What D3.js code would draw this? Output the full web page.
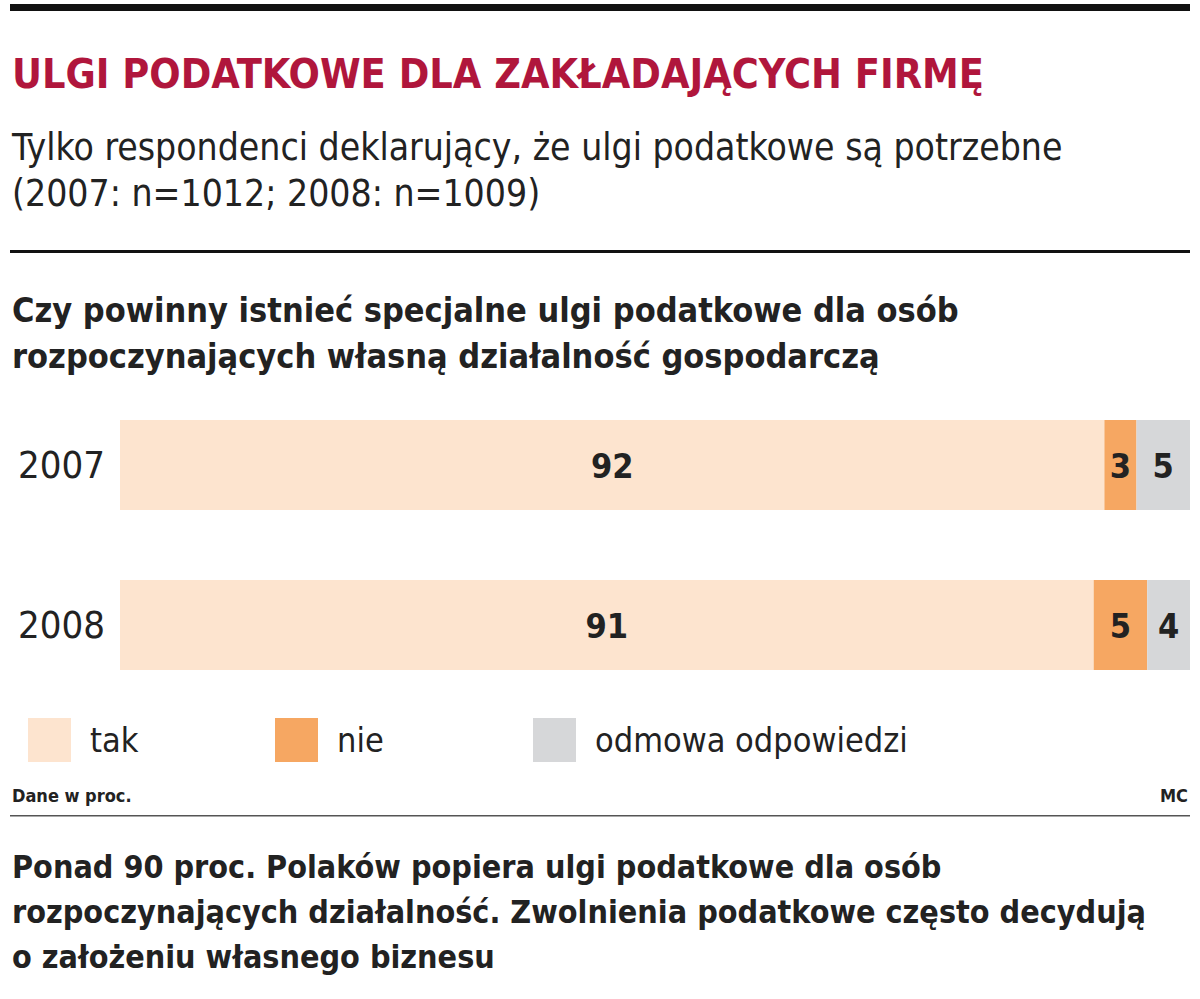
<!DOCTYPE html>
<html><head><meta charset="utf-8">
<script src="https://cdn.jsdelivr.net/npm/d3@7"></script>
<style>body{margin:0;background:#fff}text{font-family:"Liberation Sans Narrow","DejaVu Sans Condensed",sans-serif}</style>
</head><body><svg id="chart"></svg>
<script>
var years = ["2007", "2008"];
var seriesNames = ["tak", "nie", "odmowa odpowiedzi"];
var tak = [92, 91];
var nie = [3, 5];
var odmowa = [5, 4];
var colors = ["#fde4cf", "#f6a762", "#d6d7d9"];

var svg = d3.select("#chart").attr("width", 1200).attr("height", 999);

svg.append("rect").attr("x", 10).attr("y", 4).attr("width", 1180).attr("height", 7).attr("fill", "#111");
svg.append("text").attr("x", 12).attr("y", 88).attr("fill", "#b0163c")
  .attr("font-size", 41).attr("font-weight", "bold").text("ULGI PODATKOWE DLA ZAKŁADAJĄCYCH FIRMĘ");
svg.append("text").attr("x", 12).attr("y", 160).attr("font-size", 37).attr("fill", "#222")
  .text("Tylko respondenci deklarujący, że ulgi podatkowe są potrzebne");
svg.append("text").attr("x", 12).attr("y", 206).attr("font-size", 37).attr("fill", "#222")
  .text("(2007: n=1012; 2008: n=1009)");
svg.append("rect").attr("x", 10).attr("y", 250).attr("width", 1180).attr("height", 3).attr("fill", "#111");
svg.append("text").attr("x", 12).attr("y", 322).attr("font-size", 34).attr("font-weight", "bold").attr("fill", "#222")
  .text("Czy powinny istnieć specjalne ulgi podatkowe dla osób");
svg.append("text").attr("x", 12).attr("y", 368).attr("font-size", 34).attr("font-weight", "bold").attr("fill", "#222")
  .text("rozpoczynających własną działalność gospodarczą");

var rows = years.map(function(y, i) { return {year: y, vals: [tak[i], nie[i], odmowa[i]]}; });
var x = d3.scaleLinear().domain([0, 100]).range([120, 1190]);
var y = d3.scaleBand().domain(years).range([420, 670]).paddingInner(0.4375).paddingOuter(0);

var g = svg.selectAll("g.row").data(rows).enter().append("g").attr("class", "row");
g.append("text").attr("x", 105).attr("y", function(d) { return y(d.year) + y.bandwidth() / 2 + 13; })
  .attr("text-anchor", "end").attr("font-size", 38).attr("fill", "#222").text(function(d) { return d.year; });
g.each(function(d) {
  var acc = 0;
  var segs = d.vals.map(function(v, k) { var s = {v: v, k: k, x0: acc}; acc += v; return s; });
  var sel = d3.select(this).selectAll("g.seg").data(segs).enter().append("g");
  sel.append("rect").attr("x", function(s) { return x(s.x0); }).attr("y", y(d.year))
    .attr("width", function(s) { return x(s.x0 + s.v) - x(s.x0); }).attr("height", y.bandwidth())
    .attr("fill", function(s) { return colors[s.k]; });
  sel.append("text").attr("x", function(s) { return (x(s.x0) + x(s.x0 + s.v)) / 2; })
    .attr("y", y(d.year) + y.bandwidth() / 2 + 13).attr("text-anchor", "middle")
    .attr("font-size", 34).attr("font-weight", "bold").attr("fill", "#222").text(function(s) { return s.v; });
});

var legX = [28, 275, 533];
var lg = svg.selectAll("g.leg").data(seriesNames).enter().append("g");
lg.append("rect").attr("x", function(d, i) { return legX[i]; }).attr("y", 718).attr("width", 43).attr("height", 44)
  .attr("fill", function(d, i) { return colors[i]; });
lg.append("text").attr("x", function(d, i) { return legX[i] + 62; }).attr("y", 752).attr("font-size", 34).attr("fill", "#222")
  .text(function(d) { return d; });

svg.append("text").attr("x", 12).attr("y", 802).attr("font-size", 18).attr("font-weight", "bold").attr("fill", "#222").text("Dane w proc.");
svg.append("text").attr("x", 1188).attr("y", 802).attr("text-anchor", "end").attr("font-size", 18).attr("font-weight", "bold").attr("fill", "#222").text("MC");
svg.append("rect").attr("x", 10).attr("y", 815).attr("width", 1180).attr("height", 1.5).attr("fill", "#555");

["Ponad 90 proc. Polaków popiera ulgi podatkowe dla osób",
 "rozpoczynających działalność. Zwolnienia podatkowe często decydują",
 "o założeniu własnego biznesu"].forEach(function(t, i) {
  svg.append("text").attr("x", 12).attr("y", 878 + i * 45).attr("font-size", 32).attr("font-weight", "bold").attr("fill", "#222").text(t);
});
</script></body></html>
